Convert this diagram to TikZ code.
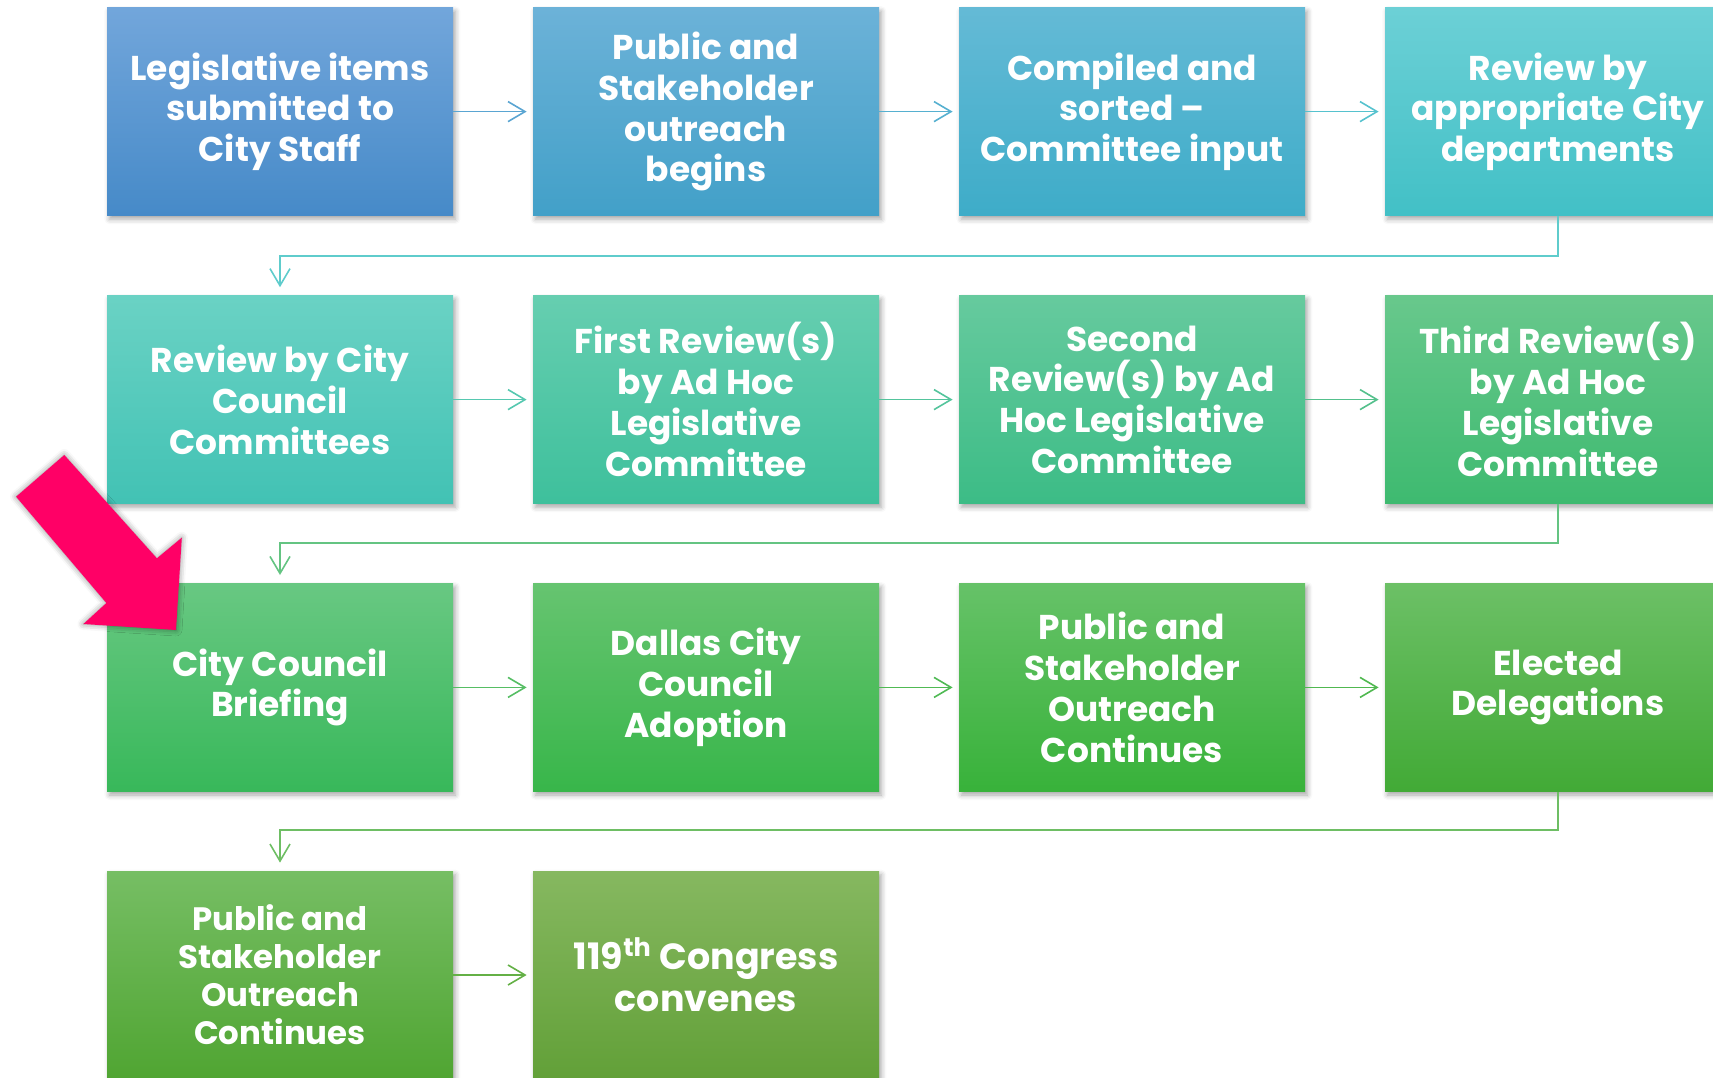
\documentclass[tikz,border=0pt]{standalone}
\usepackage{fontspec}
\setmainfont{Poppins}
\usetikzlibrary{arrows.meta,shadows.blur}
\definecolor{pinkarrow}{RGB}{255,0,102}
\definecolor{a1}{RGB}{90,165,210}
\definecolor{a2}{RGB}{86,176,208}
\definecolor{a3}{RGB}{86,194,206}
\definecolor{a4}{RGB}{95,204,204}
\definecolor{a5}{RGB}{86,200,176}
\definecolor{a6}{RGB}{84,196,156}
\definecolor{a7}{RGB}{84,192,140}
\definecolor{a8}{RGB}{100,196,130}
\definecolor{a9}{RGB}{86,190,100}
\definecolor{a10}{RGB}{80,186,84}
\definecolor{a11}{RGB}{80,184,80}
\definecolor{a12}{RGB}{110,190,100}
\definecolor{a13}{RGB}{100,176,70}
\begin{document}
\begin{tikzpicture}[x=0.5pt,y=-0.5pt,
  box/.style={minimum width=173pt, minimum height=104pt, inner sep=0pt,
    align=center, text=white,
    font=\fontsize{17.2}{20.4}\selectfont\bfseries,
    blur shadow={shadow xshift=1.2pt, shadow yshift=-1.8pt,
      shadow blur radius=2.5pt, shadow opacity=35}},
  narrowbox/.style={box, font=\fontsize{16.2}{19}\selectfont\bfseries},
  widebox/.style={box, font=\fontsize{18.2}{21.3}\selectfont\bfseries},
  conn/.style={line width=0.8pt, -{Straight Barb[length=8.5pt,width=10pt]},
    shorten >=3pt},
  vconn/.style={conn, shorten >=4pt}]
\path[use as bounding box, clip] (0,0) rectangle (1713,1077);

% row 1
\node[box, top color={rgb,255:red,114;green,166;blue,219}, bottom color={rgb,255:red,70;green,138;blue,200}] (b1) at (280,111.6) {Legislative items\\submitted to\\City Staff};
\node[box, top color={rgb,255:red,108;green,178;blue,216}, bottom color={rgb,255:red,66;green,160;blue,200}] (b2) at (706,111.6) {Public and\\Stakeholder\\outreach\\begins};
\node[box, top color={rgb,255:red,100;green,186;blue,214}, bottom color={rgb,255:red,62;green,172;blue,200}] (b3) at (1132,111.6) {Compiled and\\sorted –\\Committee input};
\node[box, top color={rgb,255:red,108;green,208;blue,214}, bottom color={rgb,255:red,66;green,192;blue,198}] (b4) at (1558,111.6) {Review by\\appropriate City\\departments};

% row 2
\node[box, top color={rgb,255:red,106;green,210;blue,196}, bottom color={rgb,255:red,66;green,194;blue,180}] (b5) at (280,399.6) {Review by City\\Council\\Committees};
\node[box, top color={rgb,255:red,102;green,206;blue,176}, bottom color={rgb,255:red,62;green,192;blue,156}] (b6) at (706,399.6) {First Review(s)\\by Ad Hoc\\Legislative\\Committee};
\node[box, top color={rgb,255:red,102;green,202;blue,158}, bottom color={rgb,255:red,60;green,188;blue,134}] (b7) at (1132,399.6) {Second\\Review(s) by Ad\\Hoc Legislative\\Committee};
\node[box, top color={rgb,255:red,104;green,200;blue,140}, bottom color={rgb,255:red,62;green,186;blue,112}] (b8) at (1558,399.6) {Third Review(s)\\by Ad Hoc\\Legislative\\Committee};

% row 3
\node[box, top color={rgb,255:red,104;green,200;blue,130}, bottom color={rgb,255:red,56;green,184;blue,90}] (b9) at (280,687.4) {City Council\\Briefing};
\node[box, top color={rgb,255:red,102;green,196;blue,112}, bottom color={rgb,255:red,56;green,182;blue,74}] (b10) at (706,687.4) {Dallas City\\Council\\Adoption};
\node[box, top color={rgb,255:red,102;green,194;blue,104}, bottom color={rgb,255:red,56;green,178;blue,58}] (b11) at (1132,687.4) {Public and\\Stakeholder\\Outreach\\Continues};
\node[box, top color={rgb,255:red,108;green,192;blue,102}, bottom color={rgb,255:red,66;green,170;blue,54}] (b12) at (1558,687.4) {Elected\\Delegations};

% row 4
\node[narrowbox, top color={rgb,255:red,118;green,190;blue,100}, bottom color={rgb,255:red,80;green,165;blue,50}] (b13) at (280,975) {Public and\\Stakeholder\\Outreach\\Continues};
\node[widebox, top color={rgb,255:red,134;green,184;blue,96}, bottom color={rgb,255:red,98;green,160;blue,56}] (b14) at (706,975) {119\textsuperscript{th} Congress\\convenes};

% elbow coordinates
\coordinate (k1) at (280,256);
\coordinate (k2) at (280,543);
\coordinate (k3) at (280,830);

% connectors
\draw[conn, a1] (b1.east) -- (b2.west);
\draw[conn, a2] (b2.east) -- (b3.west);
\draw[conn, a3] (b3.east) -- (b4.west);
\draw[vconn, a4] (b4.south) |- (k1) -- (b5.north);
\draw[conn, a5] (b5.east) -- (b6.west);
\draw[conn, a6] (b6.east) -- (b7.west);
\draw[conn, a7] (b7.east) -- (b8.west);
\draw[vconn, a8] (b8.south) |- (k2) -- (b9.north);
\draw[conn, a9] (b9.east) -- (b10.west);
\draw[conn, a10] (b10.east) -- (b11.west);
\draw[conn, a11] (b11.east) -- (b12.west);
\draw[vconn, a12] (b12.south) |- (k3) -- (b13.north);
\draw[conn, a13] (b13.east) -- (b14.west);

% pink pointer arrow
\fill[pinkarrow, blur shadow={shadow xshift=0pt, shadow yshift=0pt,
      shadow blur radius=3pt, shadow opacity=45}]
  (64.3,455) -- (156.9,558.3) -- (181.8,537.7) -- (176,630)
  -- (83.4,624) -- (106.4,603) -- (16.1,496.7) -- cycle;
\end{tikzpicture}
\end{document}
